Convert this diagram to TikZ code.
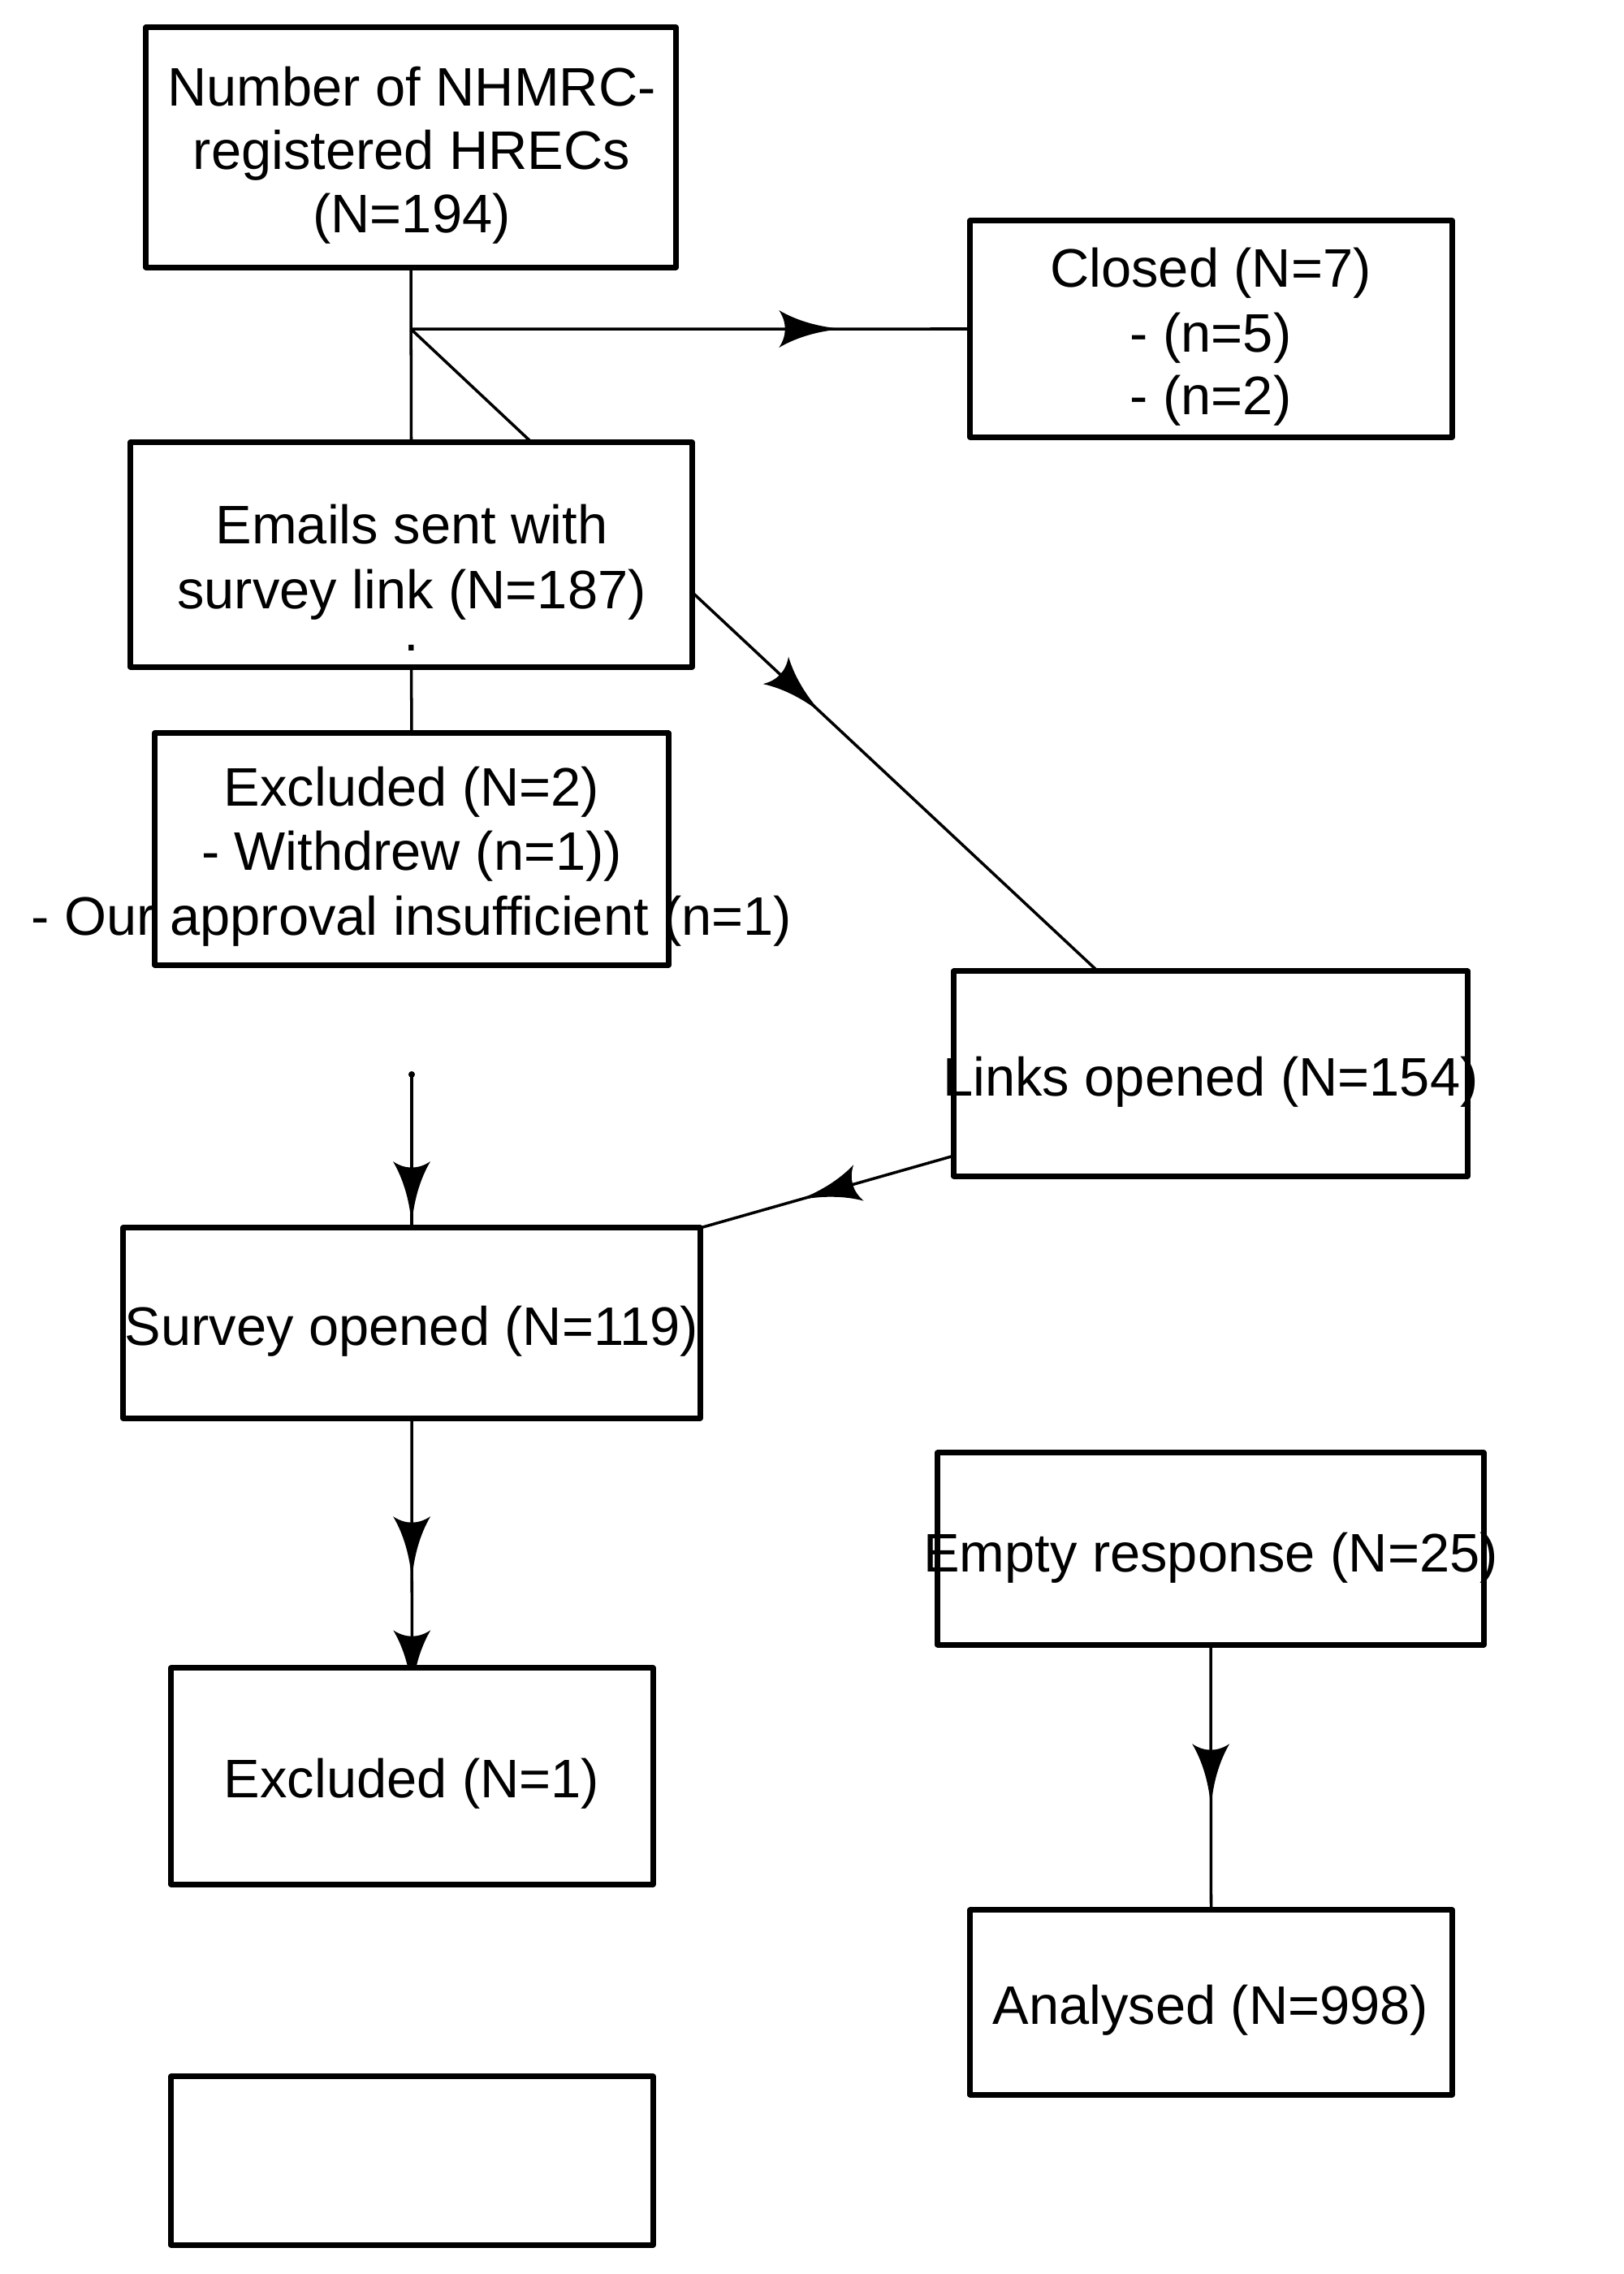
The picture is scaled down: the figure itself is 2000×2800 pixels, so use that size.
\documentclass[tikz,border=0pt]{standalone}
\usepackage{fontspec}
\setmainfont{Liberation Sans}
\usetikzlibrary{calc,decorations.markings,backgrounds}
\tikzset{
  box/.style={draw, line width=2pt, line join=round, fill=white, inner sep=0pt, outer sep=0pt, rectangle},
  txt/.style={anchor=base, inner sep=0pt, font=\fontsize{19pt}{22.4pt}\selectfont},
  conn/.style={line width=1pt},
  harrow/.style={postaction={decorate, decoration={markings,
    mark=at position #1 with {\fill (0,0) .. controls (-30,2) and (-58,10) .. (-80,23)
      .. controls (-70,8) and (-70,-8) .. (-80,-23)
      .. controls (-58,-10) and (-30,-2) .. (0,0) -- cycle;}}}}
}
\begin{document}
\begin{tikzpicture}[x=0.01cm, y=-0.01cm]
\useasboundingbox (0,0) rectangle (2000,2800);

% boxes
\node[box, minimum width=6.52cm, minimum height=2.95cm] (top) at (506,181.5) {};
\node[box, minimum width=5.93cm, minimum height=2.66cm] (closed) at (1491.5,405) {};
\node[box, minimum width=6.91cm, minimum height=2.76cm] (emails) at (506.5,683) {};
\node[box, minimum width=6.32cm, minimum height=2.85cm] (excl2) at (507,1045.5) {};
\node[box, minimum width=6.32cm, minimum height=2.52cm] (links) at (1491,1322) {};
\node[box, minimum width=7.10cm, minimum height=2.34cm] (survey) at (507,1629) {};
\node[box, minimum width=6.72cm, minimum height=2.36cm] (empty) at (1491,1907) {};
\node[box, minimum width=5.93cm, minimum height=2.66cm] (excl1) at (507.5,2187) {};
\node[box, minimum width=5.93cm, minimum height=2.27cm] (analysed) at (1491.5,2465.5) {};
\node[box, minimum width=5.93cm, minimum height=2.07cm] (blank) at (507.5,2660.5) {};

% texts
\node[txt] (t1a) at (507,130) {Number of NHMRC-};
\node[txt] (t1b) at (507,208.5) {registered HRECs};
\node[txt] (t1c) at (507,287) {(N=194)};
\node[txt] (t2a) at (1491,353) {Closed (N=7)};
\node[txt] (t2b) at (1491,433) {- (n=5)};
\node[txt] (t2c) at (1491,510) {- (n=2)};
\node[txt] (t3a) at (507,669) {Emails sent with};
\node[txt] (t3b) at (507,749) {survey link (N=187)};
\node[txt] (t3c) at (507,801) {.};
\node[txt] (t4a) at (507,992) {Excluded (N=2)};
\node[txt] (t4b) at (507,1071) {- Withdrew (n=1))};
\node[txt] (t4c) at (507,1151) {- Our approval insufficient (n=1)};
\node[txt] (t5) at (1491,1349) {Links opened (N=154)};
\node[txt] (t6) at (507,1656) {Survey opened (N=119)};
\node[txt] (t7) at (1491,1935) {Empty response (N=25)};
\node[txt] (t8) at (507,2213) {Excluded (N=1)};
\node[txt] (t9) at (1491,2492) {Analysed (N=998)};

% connectors
\coordinate (J) at ($(top.south)+(0,76)$);
\coordinate (dstart) at (507,1323);
\begin{scope}[on background layer]
  \draw[conn] (top.south) -- (emails.north);
  \draw[conn, harrow=5.33cm] (J) -- (closed.west);
  \draw[conn] (J) -- ($(emails.north)+(148.5,0)$);
  \draw[conn] (emails.south) -- (excl2.north);
  \draw[conn, harrow=2.21cm] ($(emails.east)+(0,46)$) -- ($(links.north)+(-139,0)$);
  \fill (dstart) circle (4);
  \draw[conn, harrow=1.87cm] (dstart) -- ($(survey.north)+(0,60)$);
  \draw[conn, harrow=2.02cm] ($(links.south west)+(0,-25)$) -- (survey.north east);
  \draw[conn, harrow=2.01cm, harrow=3.41cm] (survey.south) -- ($(excl1.north)+(0,120)$);
  \draw[conn, harrow=2.02cm] (empty.south) -- (analysed.north);
\end{scope}
\end{tikzpicture}
\end{document}
